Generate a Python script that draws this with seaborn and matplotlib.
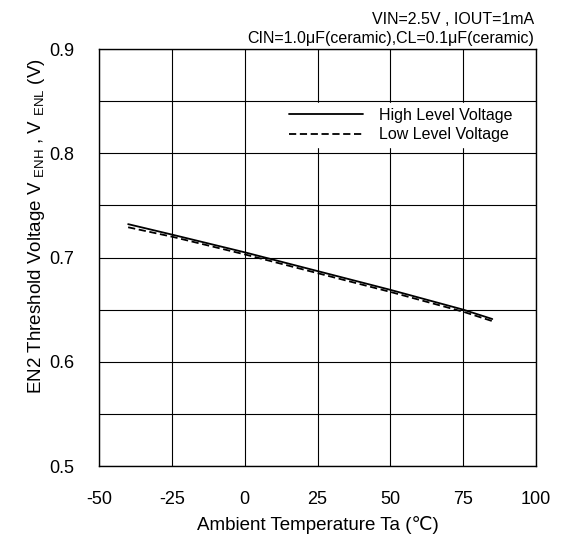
import matplotlib
matplotlib.use("Agg")
import matplotlib.pyplot as plt
import seaborn as sns
import pandas as pd
from matplotlib.lines import Line2D

temps = [-40, -25, 0, 25, 50, 75, 85]
high_v = [0.732, 0.722, 0.705, 0.687, 0.669, 0.650, 0.641]
low_v = [0.729, 0.720, 0.703, 0.685, 0.667, 0.648, 0.639]
x_ticks = [-50, -25, 0, 25, 50, 75, 100]
y_ticks = [0.5, 0.55, 0.6, 0.65, 0.7, 0.75, 0.8, 0.85, 0.9]
y_labels = ["0.5", "", "0.6", "", "0.7", "", "0.8", "", "0.9"]

sns.set_theme(style="white")
plt.rcParams['font.family'] = ['Liberation Sans', 'DejaVu Sans']
plt.rcParams['mathtext.default'] = 'regular'
plt.rcParams['text.color'] = 'black'
plt.rcParams['axes.labelcolor'] = 'black'
plt.rcParams['xtick.color'] = 'black'
plt.rcParams['ytick.color'] = 'black'

df = pd.DataFrame({
    "Ta": temps * 2,
    "V": high_v + low_v,
    "Series": ["High Level Voltage"] * len(temps) + ["Low Level Voltage"] * len(temps),
})

fig = plt.figure(figsize=(5.71, 5.50), dpi=100)
ax = fig.add_axes([0.1734, 0.1527, 0.7653, 0.7582])

sns.lineplot(data=df, x="Ta", y="V", hue="Series", style="Series",
             palette=["black", "black"], dashes=[(None, None), (4, 2)],
             linewidth=1.3, ax=ax, legend=False)

ax.set_xlim(-50, 100)
ax.set_ylim(0.5, 0.9)
ax.set_xticks(x_ticks)
ax.set_xticklabels([str(t) for t in x_ticks], fontsize=13)
ax.set_yticks(y_ticks)
ax.set_yticklabels(y_labels, fontsize=13)
ax.tick_params(axis='x', length=0, pad=18)
ax.tick_params(axis='y', length=0, pad=18)
ax.grid(True, color="black", linewidth=0.8)
for s in ax.spines.values():
    s.set_color("black")
    s.set_linewidth(1.0)

ax.set_xlabel("Ambient Temperature Ta (\u2103)", fontsize=13.5, labelpad=6)
ax.set_ylabel("EN2 Threshold Voltage V $_{ENH}$ , V $_{ENL}$ (V)", fontsize=13.5)
ax.yaxis.set_label_coords(-0.12, 0.576)

handles = [Line2D([], [], color="black", lw=1.3),
           Line2D([], [], color="black", lw=1.3, dashes=(4, 2))]
leg = ax.legend(handles, ["High Level Voltage", "Low Level Voltage"],
                loc="upper right", bbox_to_anchor=(0.975, 0.89), fontsize=11.5,
                frameon=True, framealpha=1, edgecolor="white", fancybox=False,
                handlelength=4.6, handletextpad=1.0, borderpad=0.3, labelspacing=0.3)

fig.text(0.935, 0.965, "VIN=2.5V , IOUT=1mA", ha="right", va="center", fontsize=11.5)
fig.text(0.935, 0.93, "CIN=1.0\u03bcF(ceramic),CL=0.1\u03bcF(ceramic)", ha="right", va="center", fontsize=11.5)

fig.savefig("out.png", dpi=100, facecolor="white")
